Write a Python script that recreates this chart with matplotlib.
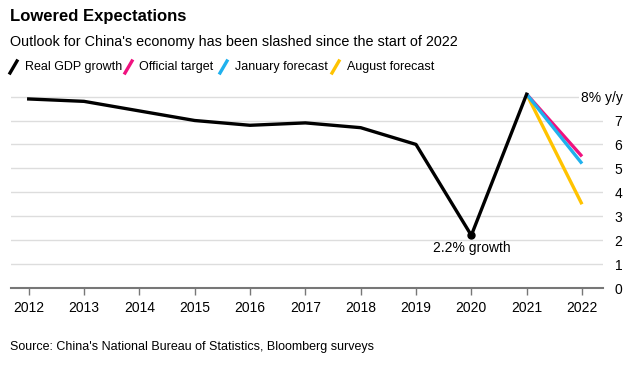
import matplotlib.pyplot as plt
from matplotlib.lines import Line2D

years = [2012, 2013, 2014, 2015, 2016, 2017, 2018, 2019, 2020, 2021]
gdp = [7.9, 7.8, 7.4, 7.0, 6.8, 6.9, 6.7, 6.0, 2.2, 8.1]

forecast_years = [2021, 2022]
official_target = [8.1, 5.5]
january_forecast = [8.1, 5.2]
august_forecast = [8.1, 3.5]

year_ticks = list(range(2012, 2023))
y_ticks = [0, 1, 2, 3, 4, 5, 6, 7, 8]
y_labels = ['0', '1', '2', '3', '4', '5', '6', '7', '8% y/y']

BLACK = '#000000'
PINK = '#f0127f'
BLUE = '#1fb1ee'
YELLOW = '#ffc300'

plt.rcParams['font.family'] = ['Liberation Sans', 'DejaVu Sans']

fig = plt.figure(figsize=(6.43, 3.68), dpi=100)
ax = fig.add_axes([11/643, 80/368, 592/643, 201/368])

ax.plot(forecast_years, august_forecast, color=YELLOW, lw=2.4, solid_capstyle='butt', zorder=3)
ax.plot(forecast_years, january_forecast, color=BLUE, lw=2.4, solid_capstyle='butt', zorder=4)
ax.plot(forecast_years, official_target, color=PINK, lw=2.4, solid_capstyle='butt', zorder=3.5)
ax.plot(years, gdp, color=BLACK, lw=2.4, zorder=5)
ax.plot([years[8]], [gdp[8]], 'o', color=BLACK, ms=5, zorder=6)
ax.text(years[8], gdp[8] - 0.25, '2.2% growth', ha='center', va='top', fontsize=10)

ax.set_xlim(2011.68, 2022.38)
ax.set_ylim(0, 8.4)
ax.set_yticks(y_ticks)
ax.set_yticklabels(y_labels)
ax.yaxis.tick_right()
ax.tick_params(axis='y', length=0, pad=14, labelsize=10)
for lab in ax.get_yticklabels():
    lab.set_horizontalalignment('right')
ax.get_yticklabels()[-1].set_bbox(dict(facecolor='white', edgecolor='none', pad=1))
ax.set_xticks(year_ticks)
ax.tick_params(axis='x', length=5, width=1, color='#777777', pad=4, labelsize=10)
ax.grid(axis='y', color='#dddddd', lw=1)
ax.set_axisbelow(True)
for s in ['top', 'right', 'left']:
    ax.spines[s].set_visible(False)
ax.spines['bottom'].set_color('#777777')
ax.spines['bottom'].set_linewidth(1.5)

fig.text(10/643, 1 - 17/368, 'Lowered Expectations', fontsize=12.0, fontweight='bold', va='center')
fig.text(10/643, 1 - 42/368, "Outlook for China's economy has been slashed since the start of 2022",
         fontsize=10.4, va='center')

legend = [('Real GDP growth', BLACK, 10, 25), ('Official target', PINK, 125, 139),
          ('January forecast', BLUE, 220, 235), ('August forecast', YELLOW, 332, 347)]
for name, col, x0, xt in legend:
    fig.add_artist(Line2D([x0/643, (x0 + 7)/643], [1 - 73/368, 1 - 61/368], color=col, lw=2.4))
    fig.text(xt/643, 1 - 67/368, name, fontsize=9, va='center')

fig.text(10/643, 1 - 347/368, "Source: China's National Bureau of Statistics, Bloomberg surveys",
         fontsize=9, va='center')

fig.savefig('out.png', dpi=100)
